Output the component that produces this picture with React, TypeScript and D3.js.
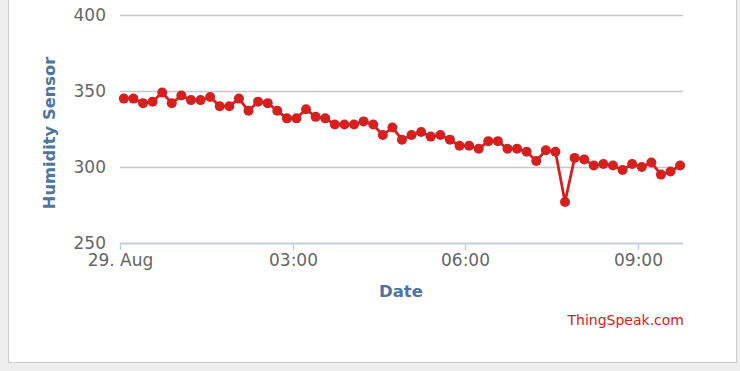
import React from "react";
import * as d3 from "d3";

const times: string[] = [
  "00:04","00:14","00:24","00:34","00:44","00:54",
  "01:04","01:14","01:24","01:34","01:44","01:54",
  "02:04","02:14","02:24","02:34","02:44","02:54",
  "03:04","03:14","03:24","03:34","03:44","03:54",
  "04:04","04:14","04:24","04:34","04:44","04:54",
  "05:04","05:14","05:24","05:34","05:44","05:54",
  "06:04","06:14","06:24","06:34","06:44","06:54",
  "07:04","07:14","07:24","07:34","07:44","07:54",
  "08:04","08:14","08:24","08:34","08:44","08:54",
  "09:04","09:14","09:24","09:34","09:44",
];
const humidity: number[] = [
  345, 345, 342, 343, 349, 342,
  347, 344, 344, 346, 340, 340,
  345, 337, 343, 342, 337, 332,
  332, 338, 333, 332, 328, 328,
  328, 330, 328, 321, 326, 318,
  321, 323, 320, 321, 318, 314,
  314, 312, 317, 317, 312, 312,
  310, 304, 311, 310, 277, 306,
  305, 301, 302, 301, 298, 302,
  300, 303, 295, 297, 301,
];
const yTicks: number[] = [250, 300, 350, 400];
const xTickTimes: string[] = ["00:00", "03:00", "06:00", "09:00"];
const xTickLabels: string[] = ["29. Aug", "03:00", "06:00", "09:00"];
const domainTimes: string[] = ["00:00", "09:47"];

const toDate = (s: string) => {
  const [h, m] = s.split(":").map(Number);
  return new Date(2016, 7, 29, h, m);
};

export default function App() {
  const W = 740, H = 371;
  const left = 120, right = 683, top = 15, bottom = 243;
  const x = d3.scaleTime().domain(domainTimes.map(toDate)).range([left, right]);
  const y = d3.scaleLinear().domain([250, 400]).range([bottom, top]);
  const data = times.map((t, i) => ({ t: toDate(t), v: humidity[i] }));
  const line = d3.line<{ t: Date; v: number }>().x(d => x(d.t)).y(d => y(d.v));
  const font = "'DejaVu Sans', Verdana, sans-serif";
  const red = "#d62020";
  const blue = "#4d759e";
  return (
    <div style={{ position: "fixed", left: 0, top: 0, width: W, height: H }}>
      <svg width={W} height={H} style={{ display: "block" }}>
        <rect x={0} y={0} width={W} height={H} fill="#eeeeee" />
        <rect x={8.5} y={-10} width={728} height={372.5} fill="#ffffff" stroke="#cccccc" />
        {yTicks.map(t => (
          <line key={t} x1={left} x2={right} y1={Math.round(y(t)) + 0.5} y2={Math.round(y(t)) + 0.5} stroke="#c8c8c8" strokeWidth={1.5} />
        ))}
        {yTicks.map(t => (
          <text key={"l" + t} x={106} y={y(t)} dy="0.33em" textAnchor="end" fontFamily={font} fontSize={17} fill="#666666">{t}</text>
        ))}
        <line x1={left} x2={right} y1={bottom + 0.5} y2={bottom + 0.5} stroke="#c0d0e0" strokeWidth={1.5} />
        {xTickTimes.map((t, i) => {
          const px = Math.round(x(toDate(t))) + 0.5;
          return (
            <g key={t}>
              <line x1={px} x2={px} y1={bottom} y2={bottom + 7} stroke="#c0d0e0" strokeWidth={1.5} />
              <text x={px} y={266} textAnchor="middle" fontFamily={font} fontSize={17} fill="#666666">{xTickLabels[i]}</text>
            </g>
          );
        })}
        <text x={401} y={297} textAnchor="middle" fontFamily={font} fontSize={16.5} fontWeight="bold" fill={blue}>Date</text>
        <text transform={`translate(55, ${(top + bottom) / 2 + 4}) rotate(-90)`} textAnchor="middle" fontFamily={font} fontSize={16.3} fontWeight="bold" fill={blue}>Humidity Sensor</text>
        <path d={line(data) || ""} fill="none" stroke={red} strokeWidth={2.8} strokeLinejoin="round" />
        {data.map((d, i) => (
          <circle key={i} cx={x(d.t)} cy={y(d.v)} r={5} fill={red} />
        ))}
        <text x={684} y={325} textAnchor="end" fontFamily={font} fontSize={14} fill={red}>ThingSpeak.com</text>
      </svg>
    </div>
  );
}
